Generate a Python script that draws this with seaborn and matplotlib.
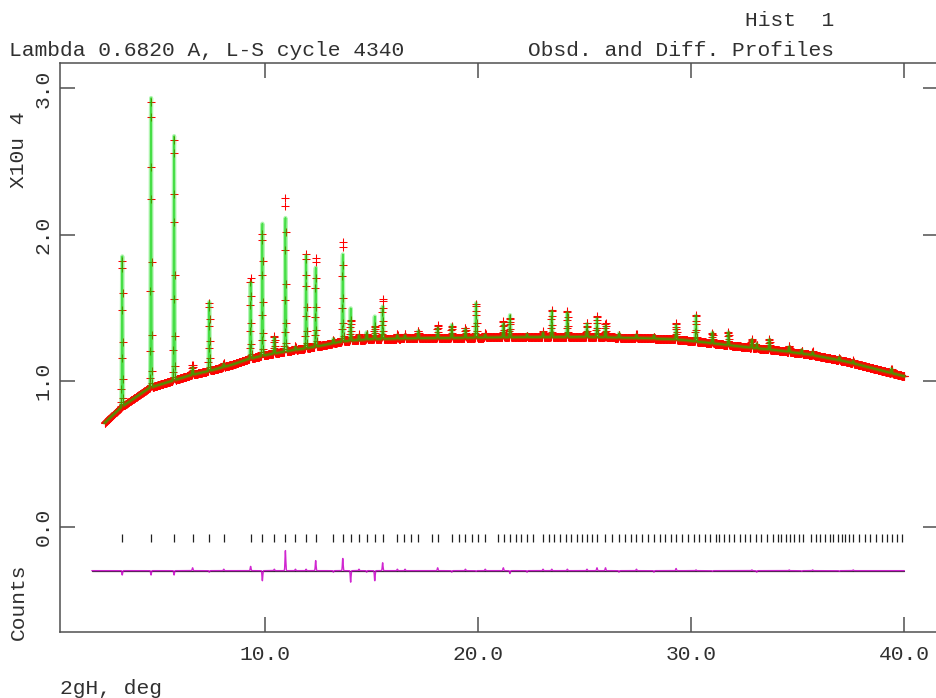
import numpy as np
import pandas as pd
import matplotlib
matplotlib.use("Agg")
import matplotlib.pyplot as plt
import seaborn as sns

# ---- data (2-theta in degrees, intensities in units of 1e4 counts) ----
bg_tth = [2.5, 3.0, 3.3, 4.0, 4.6, 5.7, 6.6, 7.5, 8.5, 9.3, 10.2, 11.0, 12.5, 13.7,
          15.0, 17.0, 20.0, 25.0, 28.0, 29.5, 31.0, 32.6, 34.2, 35.7, 37.3, 38.9, 40.0]
bg_cnt = [0.71, 0.78, 0.82, 0.89, 0.95, 1.00, 1.04, 1.07, 1.11, 1.15, 1.18, 1.20, 1.235, 1.27,
          1.285, 1.29, 1.295, 1.30, 1.29, 1.28, 1.256, 1.229, 1.205, 1.175, 1.13, 1.07, 1.03]

peak_tth = [3.33, 4.68, 5.76, 6.63, 7.41, 8.09, 9.35, 9.90, 10.46, 10.98, 11.45, 11.95, 12.40,
            13.23, 13.67, 14.04, 14.43, 14.79, 15.17, 15.54, 16.23, 16.59, 17.21, 18.12, 18.78,
            19.42, 19.92, 20.35, 21.20, 21.51, 22.31, 23.06, 23.47, 24.20, 25.12, 25.59, 25.99,
            26.62, 27.44, 28.26, 29.30, 30.23, 31.00, 31.75, 32.85, 33.08, 33.67, 34.60, 35.19,
            35.70, 36.95, 37.60, 39.40]
calc_height = [1.045, 2.015, 1.70, 0.05, 0.48, 0.02, 0.53, 0.92, 0.11, 0.93, 0.02, 0.645, 0.55,
               0.03, 0.605, 0.225, 0.03, 0.05, 0.157, 0.225, 0.023, 0.02, 0.05, 0.07, 0.09,
               0.06, 0.24, 0.02, 0.095, 0.155, 0.02, 0.03, 0.18, 0.17, 0.09, 0.13, 0.08,
               0.03, 0.02, 0.02, 0.10, 0.18, 0.075, 0.09, 0.055, 0.03, 0.07, 0.035, 0.025,
               0.02, 0.02, 0.015, 0.03]
obs_height = [1.015, 1.985, 1.67, 0.07, 0.47, 0.03, 0.56, 0.85, 0.12, 1.07, 0.03, 0.655, 0.62,
              0.02, 0.69, 0.145, 0.04, 0.04, 0.087, 0.28, 0.033, 0.03, 0.05, 0.09, 0.08,
              0.07, 0.235, 0.03, 0.115, 0.135, 0.01, 0.04, 0.19, 0.18, 0.10, 0.15, 0.10,
              0.02, 0.03, 0.01, 0.115, 0.185, 0.07, 0.09, 0.06, 0.02, 0.07, 0.04, 0.02,
              0.025, 0.015, 0.02, 0.03]

refl_tth = [3.33, 4.68, 5.76, 6.63, 7.41, 8.09, 9.35, 9.90, 10.46, 10.98, 11.45, 11.93, 12.40,
            13.23, 13.67, 14.04, 14.43, 14.79, 15.17, 15.54, 16.23, 16.53, 16.86, 17.21, 17.86,
            18.12, 18.78, 19.11, 19.42, 19.72, 20.03, 20.35, 20.95, 21.23, 21.51, 21.77, 22.03,
            22.31, 22.59, 23.06, 23.33, 23.59, 23.86, 24.12, 24.39, 24.65, 24.89, 25.12, 25.36,
            25.59, 25.97, 26.30, 26.62, 26.90, 27.17, 27.44, 27.71, 27.98, 28.26, 28.53, 28.79,
            29.05, 29.31, 29.58, 29.86, 30.12, 30.38, 30.65, 30.91, 31.17, 31.31, 31.55, 31.78,
            32.02, 32.30, 32.53, 32.77, 33.03, 33.29, 33.55, 33.82, 34.08, 34.22, 34.43, 34.63,
            34.84, 35.04, 35.25, 35.63, 35.85, 36.07, 36.30, 36.52, 36.66, 36.87, 37.08, 37.24,
            37.42, 37.60, 37.87, 38.14, 38.41, 38.68, 38.95, 39.19, 39.42, 39.66, 39.89]

x_ticks = [10.0, 20.0, 30.0, 40.0]
y_ticks = [0.0, 1.0, 2.0, 3.0]

# scan settings
scan_start, scan_end, scan_step = 1.9033, 40.00, 0.01
fit_start = 2.50          # points below this are excluded from the profile
peak_sigma = 0.018
diff_offset = -0.301
refl_level = -0.074

# ---- build profiles ----
tth = np.arange(scan_start, scan_end + scan_step / 2, scan_step)
background = np.interp(tth, bg_tth, bg_cnt)
calc = background.copy()
obs = background.copy()
for p, hc, ho in zip(peak_tth, calc_height, obs_height):
    shape = np.exp(-0.5 * ((tth - p) / peak_sigma) ** 2)
    calc += hc * shape
    obs += ho * shape
diff = obs - calc

profile = pd.DataFrame({"tth": tth, "obs": obs, "calc": calc, "diff": diff + diff_offset})
fitted = profile[profile["tth"] >= fit_start]
refl = pd.DataFrame({"tth": refl_tth, "level": refl_level})

# ---- figure ----
sns.set_style("white")
plt.rcParams["font.family"] = ["Liberation Mono", "DejaVu Sans Mono"]
W, H = 936, 698
fig = plt.figure(figsize=(W / 100, H / 100), dpi=100)
left, right, top, bottom = 59.5, 938.0, 63.3, 632.0
ax = fig.add_axes([left / W, 1 - bottom / H, (right - left) / W, (bottom - top) / H])

# observed points, calculated profile
sns.lineplot(data=fitted, x="tth", y="obs", ax=ax, estimator=None, sort=False,
             linestyle="", marker="+", markersize=6.2, markeredgewidth=0.75,
             color="#ff0000", markeredgecolor="#ff0000", markerfacecolor="#ff0000",
             zorder=2)
sns.lineplot(data=fitted, x="tth", y="calc", ax=ax, estimator=None, sort=False,
             color="#00e000", alpha=0.3, linewidth=3.0, zorder=3)
sns.lineplot(data=fitted, x="tth", y="calc", ax=ax, estimator=None, sort=False,
             color="#00d000", alpha=0.6, linewidth=1.2, zorder=3)

# difference curve with its zero line
sns.lineplot(x=[scan_start, scan_end], y=[diff_offset, diff_offset], ax=ax,
             color="#303030", linewidth=0.9, zorder=2)
sns.lineplot(data=profile, x="tth", y="diff", ax=ax, estimator=None, sort=False,
             color="#c800c8", alpha=0.85, linewidth=1.0, zorder=3)

# reflection markers
sns.lineplot(data=refl, x="tth", y="level", ax=ax, estimator=None, sort=False,
             linestyle="", marker="|", markersize=6.3, markeredgewidth=0.9,
             color="#202020", markeredgecolor="#202020", zorder=2)

# ---- axes styling ----
px_per_deg = 21.327
x0 = 264.5 - 10 * px_per_deg
ax.set_xlim((left - x0) / px_per_deg, (right - x0) / px_per_deg)
px_per_unit = 146.07
y0 = 526.7
ax.set_ylim(-(bottom - y0) / px_per_unit, (y0 - top) / px_per_unit)

ax.set_xticks(x_ticks)
ax.set_xticklabels([f"{v:.1f}" for v in x_ticks])
ax.set_yticks(y_ticks)
ax.set_yticklabels([f"{v:.1f}" for v in y_ticks])
ax.set_xlabel("")
ax.set_ylabel("")

for s in ax.spines.values():
    s.set_color("#505050")
    s.set_linewidth(1.1)

ax.tick_params(axis="both", direction="in", length=10.8, width=1.1, color="#505050",
               labelsize=15.3, labelcolor="#303030")
ax.tick_params(axis="x", top=True, bottom=True, labeltop=False, pad=9)
ax.tick_params(axis="y", left=True, right=True, labelright=False, pad=5, labelrotation=90)
for lab in ax.get_yticklabels():
    lab.set_verticalalignment("center")

txt = dict(fontsize=15.3, color="#303030")
fig.text(834 / W, 1 - 26 / H, "Hist  1", ha="right", va="baseline", **txt)
fig.text(9 / W, 1 - 56.5 / H, "Lambda 0.6820 A, L-S cycle 4340", ha="left", va="baseline", **txt)
fig.text(834 / W, 1 - 56.5 / H, "Obsd. and Diff. Profiles", ha="right", va="baseline", **txt)
fig.text(60 / W, 1 - 694 / H, "2gH, deg", ha="left", va="baseline", **txt)
fig.text(18 / W, 1 - 150 / H, "X10u 4", ha="center", va="center", rotation=90, **txt)
fig.text(18 / W, 1 - 602 / H, "Counts", ha="center", va="center", rotation=90, **txt)

fig.savefig("out.png", dpi=100)
